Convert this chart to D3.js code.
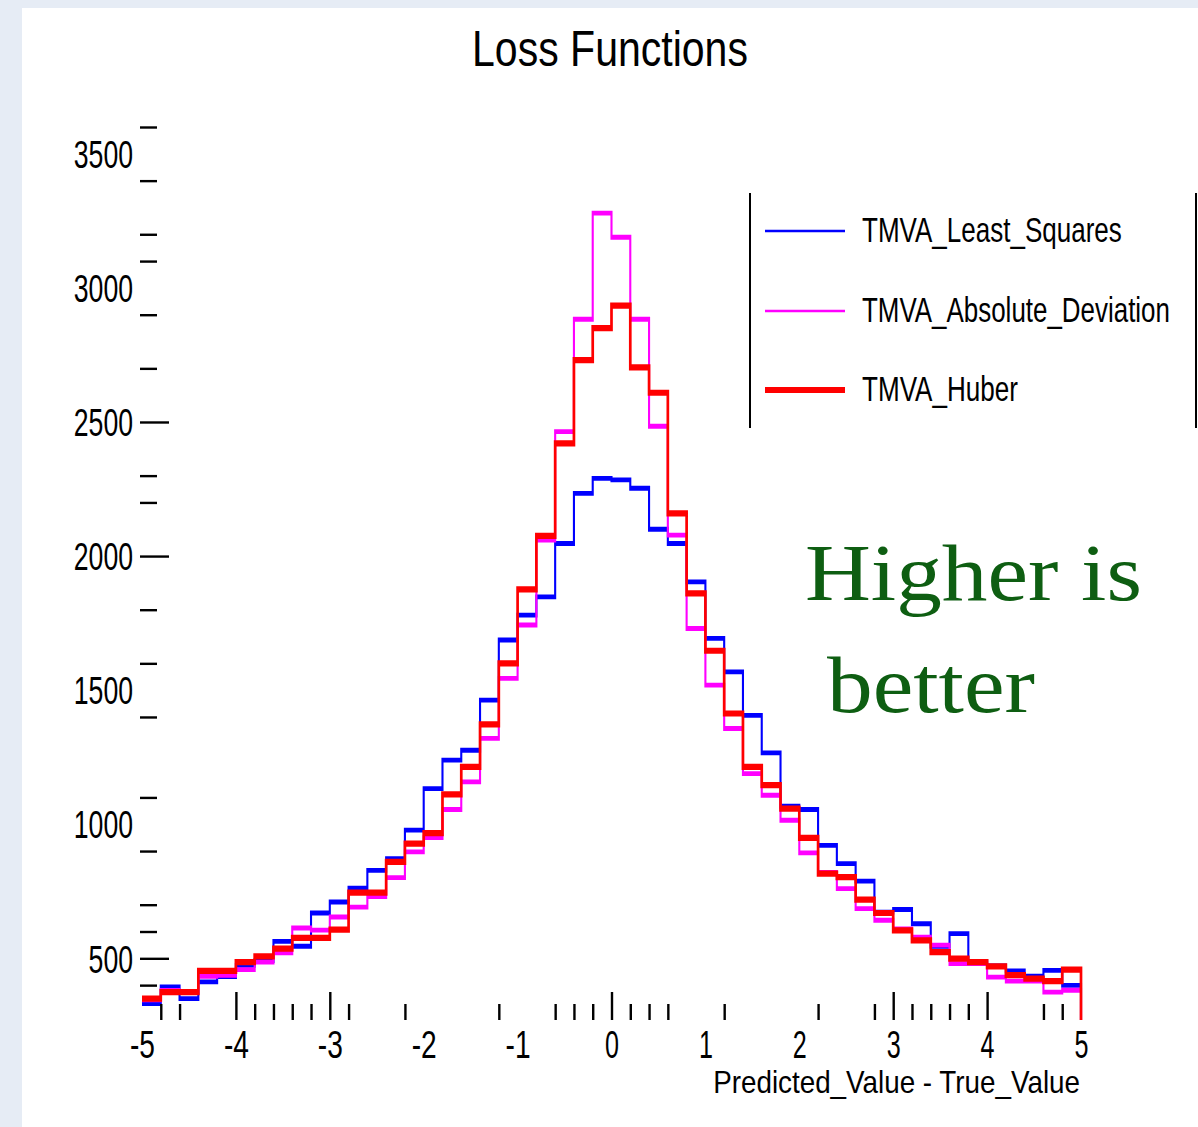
<!DOCTYPE html>
<html>
<head>
<meta charset="utf-8">
<script src="https://cdn.jsdelivr.net/npm/d3@7"></script>
<style>
  body { margin: 0; background: #e6ecf5; }
  svg { display: block; }
</style>
</head>
<body>
<div id="vis"></div>
<script>
// bin layout: 50 bins of width 0.2 from -5 to 5
const BIN_LEFT = d3.range(50).map(i => -5 + i * 0.2);

// counts, one per bin
const leastSquares = [331, 393, 350, 412, 432, 474, 492, 563, 545, 669,
                      710, 762, 828, 872, 978, 1133, 1239, 1276, 1463, 1687,
                      1780, 1848, 2047, 2234, 2290, 2284, 2253, 2100, 2047, 1904,
                      1693, 1568, 1406, 1266, 1067, 1055, 921, 853, 788, 672,
                      682, 629, 545, 592, 488, 472, 453, 433, 455, 399];
const absoluteDev = [345, 380, 376, 433, 437, 458, 486, 520, 613, 605,
                     654, 691, 730, 801, 897, 950, 1055, 1158, 1320, 1544,
                     1743, 2060, 2464, 2883, 3279, 3189, 2883, 2484, 2078, 1730,
                     1519, 1357, 1189, 1108, 1015, 893, 820, 760, 685, 642,
                     610, 579, 549, 480, 480, 430, 415, 415, 374, 381];
const huber = [350, 374, 374, 453, 453, 486, 507, 536, 576, 576,
               607, 745, 745, 860, 928, 967, 1111, 1214, 1372, 1600,
               1876, 2075, 2420, 2731, 2850, 2934, 2704, 2609, 2159, 1861,
               1647, 1413, 1214, 1146, 1058, 949, 816, 803, 719, 669,
               604, 567, 523, 499, 486, 470, 437, 424, 415, 458];

const seriesNames = ['TMVA_Least_Squares', 'TMVA_Absolute_Deviation', 'TMVA_Huber'];
const seriesColors = ['#0000ff', '#ff00ff', '#ff0000'];

// tick values (the ones that show in the picture)
const xLabels = [-5, -4, -3, -2, -1, 0, 1, 2, 3, 4, 5];
const xMajorTicks = [-4, -3, 0, 3, 4];
const xMinorTicks = [-4.8, -4.6, -3.8, -3.6, -3.4, -3.2, -2.8, -2.2, -1.2, -0.6, -0.4, -0.2,
                     0.2, 0.4, 0.6, 1.2, 2.2, 2.8, 3.2, 3.4, 3.6, 3.8, 4.6, 4.8];
const yLabels = [500, 1000, 1500, 2000, 2500, 3000, 3500];
const yMajorTicks = [500, 2000, 2500];
const yMinorTicks = [400, 600, 700, 900, 1100, 1400, 1600, 1800, 2200, 2300,
                     2700, 2900, 3100, 3200, 3400, 3600];

const FRAME_WIDTH = 1198;
const FRAME_HEIGHT = 1127;
const Y_MIN = 270;

const SVG = d3.select('#vis')
    .append('svg')
        .attr('width', FRAME_WIDTH)
        .attr('height', FRAME_HEIGHT);

// white page over the bluish background
SVG.append('rect')
    .attr('x', 22).attr('y', 8)
    .attr('width', FRAME_WIDTH - 22).attr('height', FRAME_HEIGHT - 8)
    .attr('fill', 'white');

const X_SCALE = d3.scaleLinear().domain([-5, 5]).range([142, 1081]);
const Y_SCALE = d3.scaleLinear().domain([Y_MIN, 3600]).range([1020, 127]);

const FONT = "'Liberation Sans', Arial, sans-serif";

// the plot uses a narrow font: scale a text horizontally so it is w pixels wide
function squeeze(sel, w, x, y) {
    sel.each(function() {
        const n = this.getComputedTextLength();
        const s = w / n;
        const pre = (x === undefined) ? '' : 'translate(' + x + ',' + y + ') ';
        d3.select(this).attr('transform', pre + 'scale(' + s + ',1)');
    });
}

function addText(parent, x, y, str, size, w, anchor) {
    return parent.append('text')
        .attr('text-anchor', anchor || 'start')
        .attr('font-size', size)
        .text(str)
        .call(squeeze, w, x, y);
}

const TEXTS = SVG.append('g').attr('font-family', FONT).attr('fill', 'black');

// title
addText(TEXTS, 610, 66, 'Loss Functions', 50, 276, 'middle');

// histograms, drawn in a y-stretched group so flat steps come out thicker than the risers
const K = 2.3;
const STROKES = [2.1, 2.1, 2.7];
const stepLine = d3.line()
    .x(d => X_SCALE(d[0]))
    .y(d => Y_SCALE(d[1]) / K)
    .curve(d3.curveStepAfter);

const HIST = SVG.append('g').attr('transform', 'scale(1,' + K + ')');
[leastSquares, absoluteDev, huber].forEach((vals, s) => {
    const pts = BIN_LEFT.map((x, i) => [x, vals[i]]);
    pts.push([5, vals[vals.length - 1]]);
    pts.push([5, Y_MIN]);
    HIST.append('path')
        .attr('d', stepLine(pts))
        .attr('fill', 'none')
        .attr('stroke', seriesColors[s])
        .attr('stroke-width', STROKES[s]);
});

// x axis ticks (pointing up, no axis line)
function tickAxis(g) { g.select('.domain').remove(); g.selectAll('line').attr('stroke-width', 2.4); }

SVG.append('g')
    .attr('transform', 'translate(0,1020)')
    .call(d3.axisTop(X_SCALE).tickValues(xMajorTicks).tickSize(28).tickFormat(''))
    .call(tickAxis);
SVG.append('g')
    .attr('transform', 'translate(0,1020)')
    .call(d3.axisTop(X_SCALE).tickValues(xMinorTicks).tickSize(16).tickFormat(''))
    .call(tickAxis);

// x labels
const XLAB = SVG.append('g')
    .attr('transform', 'translate(0,1028)')
    .call(d3.axisBottom(X_SCALE).tickValues(xLabels).tickSize(0).tickFormat(d => d < 0 ? '-' + (-d) : '' + d));
XLAB.select('.domain').remove();
XLAB.selectAll('text')
    .attr('font-family', FONT).attr('font-size', 39).attr('fill', 'black')
    .attr('dy', '0.7em')
    .each(function(d) { d3.select(this).call(squeeze, d < 0 ? 25 : 14); });

// y axis ticks (pointing right, no axis line)
SVG.append('g')
    .attr('transform', 'translate(140,0)')
    .call(d3.axisRight(Y_SCALE).tickValues(yMajorTicks).tickSize(29).tickFormat(''))
    .call(tickAxis);
SVG.append('g')
    .attr('transform', 'translate(140,0)')
    .call(d3.axisRight(Y_SCALE).tickValues(yMinorTicks).tickSize(17).tickFormat(''))
    .call(tickAxis);

// y labels
const YLAB = SVG.append('g')
    .attr('transform', 'translate(133,0)')
    .call(d3.axisLeft(Y_SCALE).tickValues(yLabels).tickSize(0).tickPadding(0).tickFormat(d3.format('d')));
YLAB.select('.domain').remove();
YLAB.selectAll('text')
    .attr('font-family', FONT).attr('font-size', 38).attr('fill', 'black')
    .attr('dy', '0.36em')
    .each(function(d) { d3.select(this).call(squeeze, String(d).length * 14.8); });

// x axis title
addText(TEXTS, 1080, 1093, 'Predicted_Value - True_Value', 32, 367, 'end');

// legend
const LEG = SVG.append('g');
[750, 1196].forEach(x => {
    LEG.append('line')
        .attr('x1', x).attr('x2', x).attr('y1', 193).attr('y2', 428)
        .attr('stroke', 'black').attr('stroke-width', 2);
});
const LEG_Y = [231, 311, 390];
const LEG_W = [260, 308, 156];
const LEG_STROKE = [2.5, 2.5, 6];
seriesNames.forEach((name, i) => {
    LEG.append('line')
        .attr('x1', 765).attr('x2', 845)
        .attr('y1', LEG_Y[i]).attr('y2', LEG_Y[i])
        .attr('stroke', seriesColors[i]).attr('stroke-width', LEG_STROKE[i]);
    addText(TEXTS, 862, LEG_Y[i] + 11, name, 35, LEG_W[i]);
});

// annotation
const NOTE = SVG.append('g')
    .attr('font-family', "'Liberation Serif', 'Times New Roman', serif")
    .attr('fill', '#0e5e12');
addText(NOTE, 805, 600, 'Higher is', 80, 337);
addText(NOTE, 827, 712, 'better', 80, 208);
</script>
</body>
</html>
